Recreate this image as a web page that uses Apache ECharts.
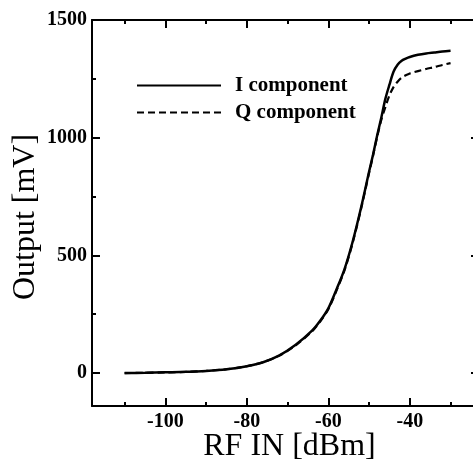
<!DOCTYPE html>
<html><head><meta charset="utf-8">
<script src="https://cdn.jsdelivr.net/npm/echarts@6/dist/echarts.min.js"></script>
<style>html,body{margin:0;padding:0;background:#fff}#c{width:473px;height:459px}</style>
</head><body><div id="c"></div>
<script>
const rfIn = [-110,-105,-100,-95,-90,-85,-80,-76,-72,-68,-64,-62,-60,-58,-56,-54,-52,-50,-49,-48,-47,-46,-45,-44,-43,-42,-41,-40,-38,-36,-34,-32,-30];
const iComp = [0,1,3,5,9,16,29,46,75,120,180,222,275,355,443,560,700,855,930,1010,1085,1165,1225,1280,1310,1327,1336,1343,1352,1358,1362,1366,1369];
const qComp = [0,1,3,5,9,16,29,46,74,118,177,219,271,350,438,555,695,850,925,1005,1075,1130,1180,1215,1238,1255,1265,1273,1283,1292,1300,1309,1317];
const xMajor = [-100,-80,-60,-40];
const xMinor = [-110,-90,-70,-50,-30];
const yMajor = [0,500,1000,1500];
const yMinor = [250,750,1250];

const serif = 'Liberation Serif, Times New Roman, serif';
const pair = (xs, ys) => xs.map((x, i) => [x, ys[i]]);

function xAx(pos, ticks, len, showLabel, showLine) {
  return {
    type: 'value', position: pos, min: -118, max: -24,
    axisLine: {show: showLine, onZero: false, lineStyle: {color: '#000', width: 2}},
    axisTick: {show: true, inside: true, length: len, customValues: ticks, lineStyle: {color: '#000', width: 2}},
    axisLabel: {show: showLabel, customValues: ticks, margin: 6, color: '#000', fontFamily: serif, fontWeight: 'bold', fontSize: 20, formatter: v => String(v)},
    splitLine: {show: false}
  };
}
function yAx(pos, ticks, len, showLabel, showLine) {
  return {
    type: 'value', position: pos, min: -140, max: 1500,
    axisLine: {show: showLine, onZero: false, lineStyle: {color: '#000', width: 2}},
    axisTick: {show: true, inside: true, length: len, customValues: ticks, lineStyle: {color: '#000', width: 2}},
    axisLabel: {show: showLabel, customValues: ticks, margin: 5, color: '#000', fontFamily: serif, fontWeight: 'bold', fontSize: 20, formatter: v => String(v)},
    splitLine: {show: false}
  };
}

const xa0 = xAx('bottom', xMajor, 8, true, true);
xa0.name = 'RF IN [dBm]';
xa0.nameLocation = 'middle';
xa0.nameGap = 25;
xa0.nameMoveOverlap = false;
xa0.nameTextStyle = {fontFamily: serif, fontSize: 32, color: '#000', padding: [0,0,0,12]};
const ya0 = yAx('left', yMajor, 8, true, true);
ya0.name = 'Output [mV]';
ya0.nameLocation = 'middle';
ya0.nameGap = 50;
ya0.nameMoveOverlap = false;
ya0.nameTextStyle = {fontFamily: serif, fontSize: 32, color: '#000', padding: [0,8,0,0]};

const chart = echarts.init(document.getElementById('c'));
chart.setOption({
  animation: false,
  backgroundColor: '#fff',
  grid: {left: 92, top: 20, width: 383, height: 386, containLabel: false, outerBoundsMode: 'none'},
  legend: {
    left: 131, top: 70, orient: 'vertical', itemWidth: 84, itemHeight: 14, itemGap: 6,
    itemStyle: {opacity: 0},
    textStyle: {fontFamily: serif, fontWeight: 'bold', fontSize: 21, color: '#000', padding: [0,0,0,9]},
    data: ['I component', 'Q component']
  },
  xAxis: [xa0, xAx('bottom', xMinor, 4, false, false), xAx('top', xMajor, 8, false, true), xAx('top', xMinor, 4, false, false)],
  yAxis: [ya0, yAx('left', yMinor, 4, false, false), yAx('right', yMajor, 4, false, true)],
  series: [
    {name: 'I component', type: 'line', xAxisIndex: 0, yAxisIndex: 0, data: pair(rfIn, iComp), symbol: 'none', smooth: 0.3,
     lineStyle: {color: '#000', width: 2.5, type: 'solid'}, itemStyle: {color: '#000'}},
    {name: 'Q component', type: 'line', xAxisIndex: 0, yAxisIndex: 0, data: pair(rfIn, qComp), symbol: 'none', smooth: 0.3,
     lineStyle: {color: '#000', width: 2.2, type: [7,4]}, itemStyle: {color: '#000'}}
  ]
});
</script></body></html>
